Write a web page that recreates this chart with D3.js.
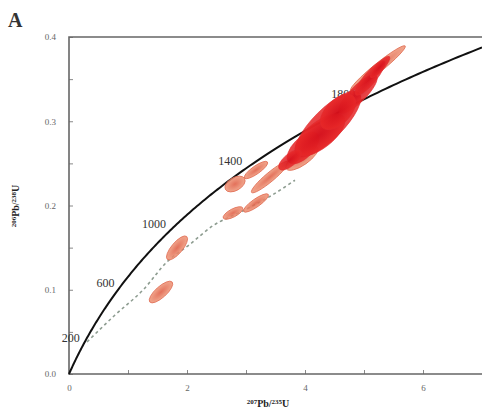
<!DOCTYPE html>
<html><head><meta charset="utf-8">
<script src="https://cdn.jsdelivr.net/npm/d3@7"></script>
<style>body{margin:0;background:#fff}svg{display:block}</style>
</head><body>
<svg id="c" width="482" height="416"></svg>
<script>
// ---- data ----
const xTicks = [0,1,2,3,4,5,6,7];
const xTickLabels = ["0","","2","","4","","6",""];
const yTicks = [0,0.05,0.1,0.15,0.2,0.25,0.3,0.35,0.4];
const yTickLabels = ["0.0","","0.1","","0.2","","0.3","","0.4"];
const ageLabels = [200,600,1000,1400,1800];
const lambda238 = 1.55125e-10, lambda235 = 9.8485e-10;
// dashed trend (x = 207Pb/235U, y = 206Pb/238U)
const trendX = [0.305,0.78,1.254,1.661,2.05,2.44,2.90,3.41,3.83];
const trendY = [0.038,0.070,0.0997,0.133,0.154,0.176,0.192,0.211,0.230];
// error ellipses: centre, extent in x, extent in y, correlation
const lightX   = [1.559,1.831,2.814,3.169,2.780,3.169,3.407,3.949,5.237];
const lightY   = [0.0973,0.1496,0.2255,0.2421,0.1911,0.2030,0.2338,0.2564,0.3632];
const lightSX  = [0.199,0.1783,0.1707,0.1983,0.1676,0.2119,0.3155,0.2724,0.4636];
const lightSY  = [0.01287,0.01427,0.00934,0.01029,0.00742,0.01092,0.01876,0.01462,0.02647];
const lightRho = [0.761,0.758,0.430,0.834,0.704,0.854,0.931,0.740,0.966];
const redX   = [4.390,4.898,3.966,5.102,4.254,4.559,3.746,5.271];
const redY   = [0.2967,0.3323,0.2683,0.3513,0.2837,0.311,0.254,0.3644];
const redSX  = [0.5571,0.3261,0.268,0.252,0.423,0.3003,0.1932,0.1666];
const redSY  = [0.03902,0.02283,0.01877,0.02052,0.02507,0.02103,0.01199,0.01275];
const redRho = [0.792,0.827,0.600,0.858,0.672,0.541,0.684,0.848];

// ---- layout ----
const svg = d3.select("#c");
const L = 69, R = 482, T = 37, B = 374;
const x = d3.scaleLinear().domain([0,7]).range([L,R]);
const y = d3.scaleLinear().domain([0,0.4]).range([B,T]);
const serif = "'Liberation Serif','DejaVu Serif',serif";

function ellipseParams(cx,cy,sx,sy,rho){
  const kx = Math.abs(x(1)-x(0)), ky = Math.abs(y(1)-y(0));
  const a11 = (sx*kx)**2, a22 = (sy*ky)**2, a12 = rho*sx*kx*sy*ky;
  const tr = a11+a22, det = a11*a22-a12*a12;
  const l1 = tr/2+Math.sqrt(tr*tr/4-det), l2 = tr/2-Math.sqrt(tr*tr/4-det);
  const phi = 0.5*Math.atan2(2*a12, a11-a22);
  return {px:x(cx), py:y(cy), a:Math.sqrt(l1), b:Math.sqrt(Math.max(l2,0.5)), deg:-phi*180/Math.PI};
}

const defs = svg.append("defs");
const g1 = defs.append("radialGradient").attr("id","lg");
g1.append("stop").attr("offset","0%").attr("stop-color","rgb(222,88,62)");
g1.append("stop").attr("offset","100%").attr("stop-color","rgb(238,150,120)");
const g2 = defs.append("radialGradient").attr("id","rg");
g2.append("stop").attr("offset","0%").attr("stop-color","rgb(212,14,26)");
g2.append("stop").attr("offset","100%").attr("stop-color","rgb(232,40,40)");

// axes (ticks inside)
const xAxis = d3.axisBottom(x).tickValues(xTicks).tickSize(-4).tickPadding(11)
  .tickFormat((d,i)=>xTickLabels[i]);
const gx = svg.append("g").attr("transform",`translate(0,${B})`).call(xAxis);
const yAxis = d3.axisLeft(y).tickValues(yTicks).tickSize(-4).tickPadding(13)
  .tickFormat((d,i)=>yTickLabels[i]);
const gy = svg.append("g").attr("transform",`translate(${L},0)`).call(yAxis);
[gx,gy].forEach(g=>{
  g.select(".domain").remove();
  g.selectAll(".tick line").attr("stroke","#888").attr("stroke-width",1);
  g.selectAll(".tick text").attr("font-family",serif).attr("font-size",9).attr("fill","#666");
});
svg.append("path").attr("d",`M${R},${T}H${L}V${B}H${R}`)
  .attr("fill","none").attr("stroke","#666").attr("stroke-width",1.6);

// concordia
const tMax = Math.log(1+7)/lambda235;
const concordia = d3.range(0,201).map(i=>{const t=tMax*i/200;return [Math.exp(lambda235*t)-1, Math.exp(lambda238*t)-1];});
const line = d3.line().x(d=>x(d[0])).y(d=>y(d[1]));
svg.append("path").datum(concordia).attr("d",line)
  .attr("fill","none").attr("stroke","#111").attr("stroke-width",2);

// age labels
svg.selectAll(".age").data(ageLabels).join("text")
  .attr("x",d=>x(Math.exp(lambda235*d*1e6)-1)-2)
  .attr("y",d=>y(Math.exp(lambda238*d*1e6)-1)-5)
  .attr("text-anchor","end").attr("font-family",serif).attr("font-size",12).attr("fill","#333")
  .text(d=>d);

// dashed trend line
svg.append("path").datum(trendX.map((v,i)=>[v,trendY[i]]))
  .attr("d",d3.line().curve(d3.curveMonotoneX).x(d=>x(d[0])).y(d=>y(d[1])))
  .attr("fill","none").attr("stroke","#8d9c90").attr("stroke-width",1.6).attr("stroke-dasharray","3,3");

// ellipses
const light = lightX.map((v,i)=>ellipseParams(v,lightY[i],lightSX[i],lightSY[i],lightRho[i]));
svg.selectAll(".le").data(light).join("ellipse")
  .attr("cx",0).attr("cy",0).attr("rx",d=>d.a).attr("ry",d=>d.b)
  .attr("transform",d=>`translate(${d.px},${d.py}) rotate(${d.deg})`)
  .attr("fill","url(#lg)").attr("fill-opacity",0.85)
  .attr("stroke","rgb(225,110,85)").attr("stroke-width",0.8);
const red = redX.map((v,i)=>ellipseParams(v,redY[i],redSX[i],redSY[i],redRho[i]));
svg.selectAll(".re").data(red).join("ellipse")
  .attr("cx",0).attr("cy",0).attr("rx",d=>d.a).attr("ry",d=>d.b)
  .attr("transform",d=>`translate(${d.px},${d.py}) rotate(${d.deg})`)
  .attr("fill","url(#rg)").attr("fill-opacity",0.85)
  .attr("stroke","rgb(225,40,45)").attr("stroke-width",0.6);

// axis titles
const xt = svg.append("text").attr("x",268).attr("y",407).attr("text-anchor","middle")
  .attr("font-family",serif).attr("font-weight","bold").attr("font-size",10).attr("fill","#222");
xt.append("tspan").attr("font-size",7).attr("dy",-3).text("207");
xt.append("tspan").attr("dy",3).text("Pb/");
xt.append("tspan").attr("font-size",7).attr("dy",-3).text("235");
xt.append("tspan").attr("dy",3).text("U");
const yt = svg.append("text").attr("transform","translate(19,206) rotate(-90)").attr("text-anchor","middle")
  .attr("font-family",serif).attr("font-weight","bold").attr("font-size",10).attr("fill","#222");
yt.append("tspan").attr("font-size",7).attr("dy",-3).text("206");
yt.append("tspan").attr("dy",3).text("Pb/");
yt.append("tspan").attr("font-size",7).attr("dy",-3).text("238");
yt.append("tspan").attr("dy",3).text("U");

svg.append("text").attr("x",8).attr("y",27).attr("font-family",serif).attr("font-weight","bold")
  .attr("font-size",20).attr("fill","#333").text("A");
</script>
</body></html>
